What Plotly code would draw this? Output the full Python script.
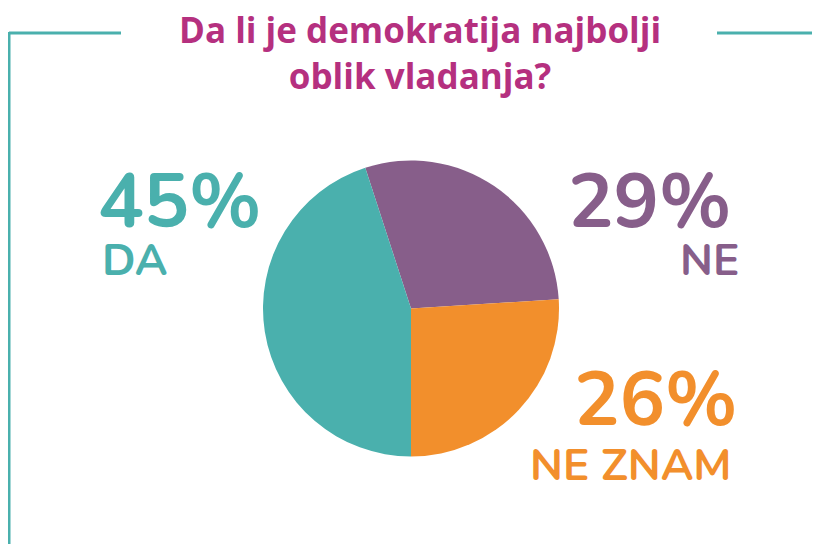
import plotly.graph_objects as go

W, H = 820, 544
OFF = 8  # page body margin offset of the figure inside the window

labels = ["NE", "NE ZNAM", "DA"]
values = [29, 26, 45]
colors = ["#875E8A", "#F28F2C", "#4AB0AD"]
title_lines = ["Da li je demokratija najbolji", "oblik vladanja?"]


def px(x, y):
    """window pixel -> paper coords"""
    return (x - OFF) / W, 1 - (y - OFF) / H


cx, cy, r = 411, 308.5, 148
x0, y1 = px(cx - r, cy - r)
x1, y0 = px(cx + r, cy + r)
fig = go.Figure(go.Pie(
    labels=labels, values=values, sort=False, direction="clockwise",
    rotation=-18,
    marker=dict(colors=colors, line=dict(width=0)),
    textinfo="none", hoverinfo="label+percent", showlegend=False,
    domain=dict(x=[x0, x1], y=[y0, y1]),
))

FONT = "Nunito, Lato, 'Open Sans', sans-serif"
ann = []
# (pct anchor x, pct top y, label anchor x, label top y, xanchor)
pos = {
    "DA": (96, 148, 100, 229, "left"),
    "NE": (733, 148, 741, 229, "right"),
    "NE ZNAM": (739, 346, 734, 434, "right"),
}
for lab, val, col in zip(labels, values, colors):
    pxx, pyy, lx, ly, xa = pos[lab]
    ax, ay = px(pxx, pyy)
    ann.append(dict(x=ax, y=ay, xref="paper", yref="paper", xanchor=xa, yanchor="top",
                    text=f"<b>{val}%</b>", showarrow=False,
                    font=dict(size=76, color=col, family=FONT)))
    bx, by = px(lx, ly)
    ann.append(dict(x=bx, y=by, xref="paper", yref="paper", xanchor=xa, yanchor="top",
                    text=f"<b>{lab}</b>", showarrow=False,
                    font=dict(size=44, color=col, family=FONT)))

tx, ty = px(420, 4)
ann.append(dict(x=tx, y=ty, xref="paper", yref="paper", xanchor="center", yanchor="top",
                text="<b>" + "<br>".join(title_lines) + "</b>", showarrow=False,
                font=dict(size=35, color="#B5307F", family="'Open Sans', sans-serif")))

line = dict(color="#4AB0AD", width=3)
lx0, ly = px(9, 33)
lx1, _ = px(121, 33)
rx0, _ = px(717, 33)
_, ly_top = px(9, 32)
shapes = [
    dict(type="line", xref="paper", yref="paper", x0=lx0, x1=lx1, y0=ly, y1=ly, line=line),
    dict(type="line", xref="paper", yref="paper", x0=lx0, x1=lx0, y0=ly_top, y1=0, line=line),
    dict(type="line", xref="paper", yref="paper", x0=rx0, x1=1, y0=ly, y1=ly, line=line),
]

fig.update_layout(width=W, height=H, margin=dict(l=0, r=0, t=0, b=0),
                  paper_bgcolor="white", plot_bgcolor="white",
                  annotations=ann, shapes=shapes)
fig.write_html("out.html")
